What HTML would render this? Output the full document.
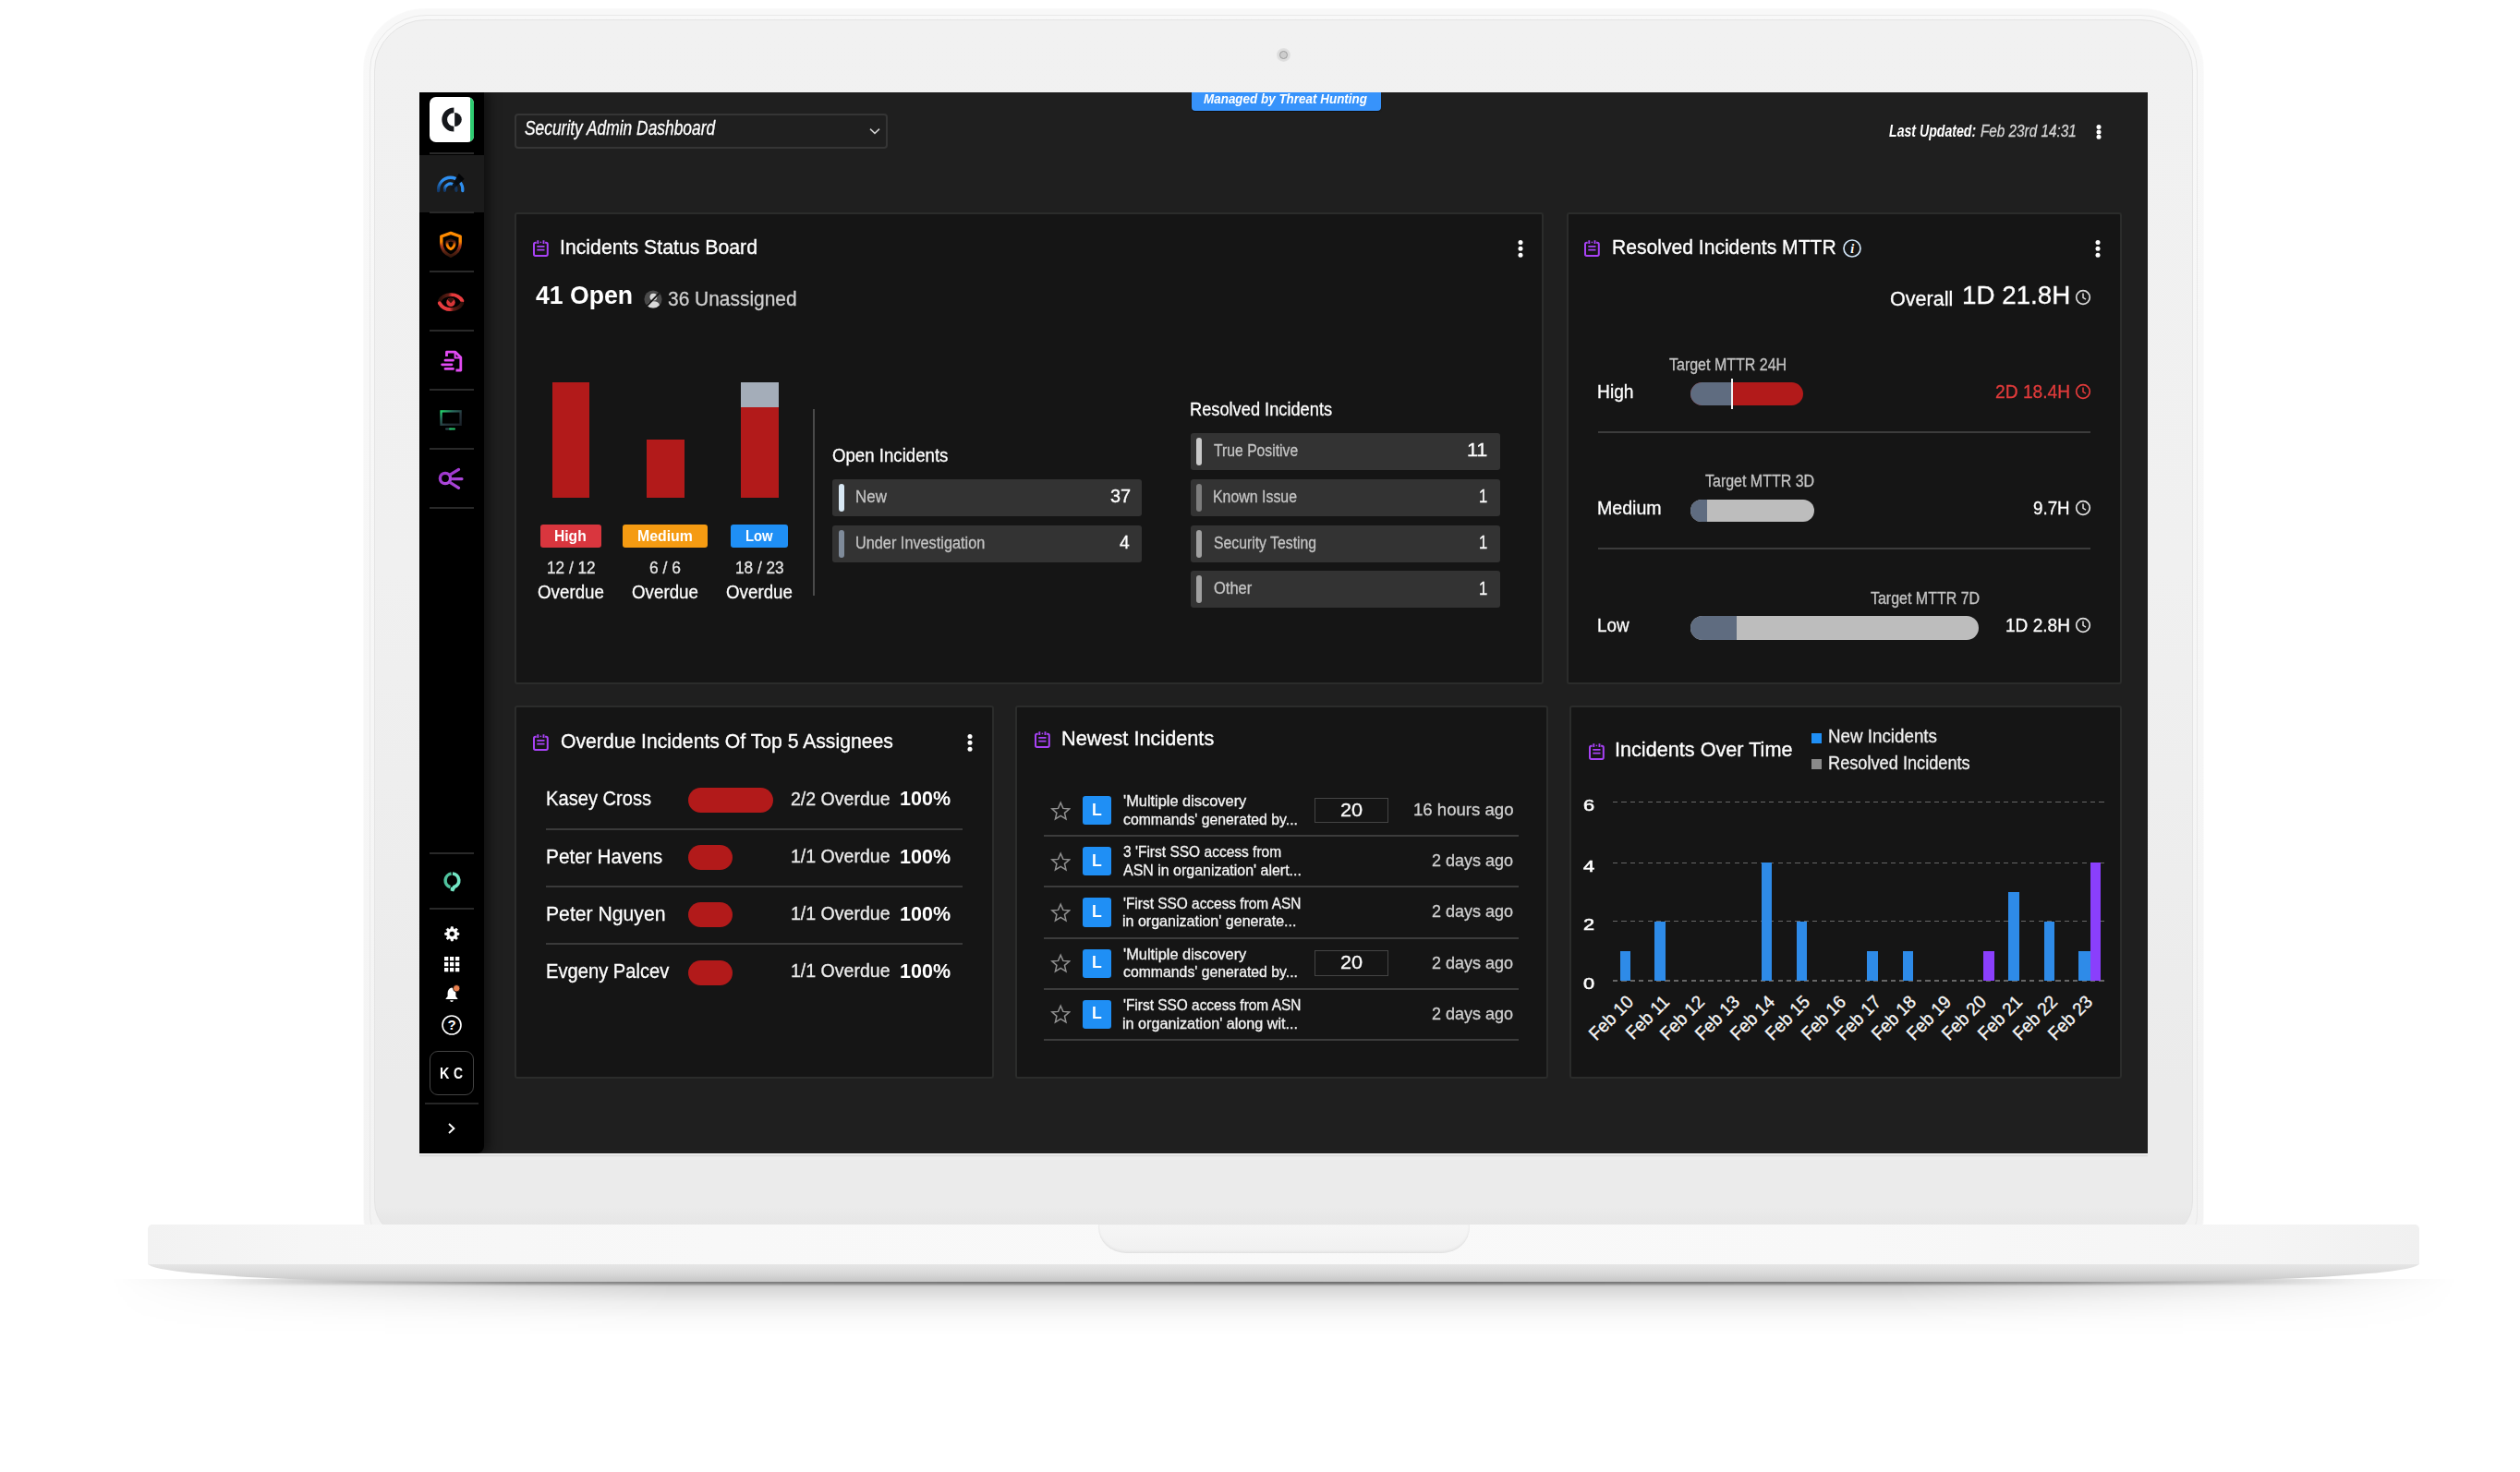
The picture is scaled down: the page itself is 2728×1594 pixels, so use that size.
<!DOCTYPE html>
<html lang="en"><head><meta charset="utf-8">
<title>Security Admin Dashboard</title>
<style>
html,body{margin:0;padding:0}
body{width:2728px;height:1594px;background:#fff;position:relative;overflow:hidden;
 font-family:"Liberation Sans",sans-serif;}
div,svg.a,span.t{position:absolute;box-sizing:border-box}
span.t{white-space:nowrap;line-height:1;transform-origin:0 50%;display:block}
.panel{background:#151515;border:2px solid #2b2c2b;border-radius:3px}
.row{background:#333;border-radius:3px}
</style></head><body>
<div id="laptop" style="left:0;top:0;width:2728px;height:1594px"><div style="left:120.0px;top:1385.0px;width:2540.0px;height:70.0px;background:linear-gradient(rgba(0,0,0,.30),rgba(0,0,0,.16) 14%,rgba(0,0,0,.07) 36%,rgba(0,0,0,.02) 62%,rgba(0,0,0,0) 88%);-webkit-mask-image:linear-gradient(90deg,transparent,rgba(0,0,0,.35) 8%,#000 24%,#000 76%,rgba(0,0,0,.35) 92%,transparent);mask-image:linear-gradient(90deg,transparent,rgba(0,0,0,.35) 8%,#000 24%,#000 76%,rgba(0,0,0,.35) 92%,transparent)"></div><div style="left:230.0px;top:1385.0px;width:2320.0px;height:6.0px;background:linear-gradient(90deg,rgba(0,0,0,0),rgba(0,0,0,.30) 14%,rgba(0,0,0,.42) 50%,rgba(0,0,0,.30) 86%,rgba(0,0,0,0));filter:blur(1.3px)"></div><div style="left:394.3px;top:10.0px;width:1990.4px;height:1330.0px;background:linear-gradient(#f8f8f8,#f6f6f6 60%,#f3f3f3);border-radius:66px 66px 20px 20px;box-shadow:0 0 1.5px rgba(0,0,0,.10)"></div><div style="left:400.0px;top:15.7px;width:1979.0px;height:1330.0px;border:1.2px solid #e9e9e9;border-radius:61px 61px 30px 30px"></div><div style="left:405.0px;top:20.7px;width:1969.0px;height:1320.0px;background:linear-gradient(#f1f1f1,#f0f0f0 45%,#ebebeb 88%,#ebebeb 97.5%,#e6e6e6 98.9%);border:1.6px solid #e4e4e4;border-radius:56px 56px 40px 40px"></div><div style="left:1382.2px;top:52.0px;width:14.6px;height:14.6px;border-radius:50%;background:radial-gradient(circle,#dcdcdc 55%,#e6e6e6 75%,rgba(236,236,236,0) 100%)"></div><div style="left:1384.9px;top:54.7px;width:9.2px;height:9.2px;border-radius:50%;background:#cdcdcd;border:1.4px solid #9c9c9c"></div><div style="left:160.0px;top:1368.0px;width:2459.0px;height:20.0px;background:linear-gradient(#e8e8e8,#d9d9d9 55%,#c6c6c6);border-radius:0 0 330px 330px/0 0 20px 20px"></div><div style="left:160.0px;top:1326.0px;width:2459.0px;height:43.4px;background:linear-gradient(90deg,#f2f2f2,#f6f6f6 7%,#f8f8f8 25%,#f9f9f9 50%,#f8f8f8 75%,#f5f5f5 93%,#f0f0f0);border-radius:5px 5px 1px 1px"></div><div style="left:1189.0px;top:1326.0px;width:402.0px;height:31.0px;background:linear-gradient(#f6f6f6,#f0f0f0);border-radius:0 0 30px 30px/0 0 28px 28px;box-shadow:inset 0 -2px 3px rgba(0,0,0,.05),inset 0 0 2px rgba(0,0,0,.05)"></div></div>
<div id="screen" style="left:454px;top:100px;width:1871px;height:1149px;background:#1f1f1f;overflow:hidden;box-shadow:0 1.2px 0 #fdfdfd,0 3.4px 0 #dbdbdb"><div id="sidebar" style="left:0;top:0;width:70px;height:1149px;background:#000;border-radius:0 0 8px 0;box-shadow:3px 0 14px 1px rgba(0,0,0,.6)"><div style="left:10.5px;top:5.0px;width:48.5px;height:49.0px;background:#fff;border-radius:7px;overflow:hidden"><div style="right:0;top:0;width:4.5px;height:49px;background:#2ecc71"></div><svg class="a" style="left:0;top:0" width="49" height="49" viewBox="0 0 49 49"><path d="M26.4 11.4A13.1 13.1 0 0 0 26.4 37.6V31.8A7.3 7.3 0 0 1 26.4 17.2z" fill="#16181c"/><path d="M27.2 16.9A7.6 7.6 0 0 1 27.2 32.1z" fill="#16181c"/></svg></div><div style="left:0.0px;top:67.5px;width:70.0px;height:62.2px;background:#1b1b1b"></div><div style="left:11.0px;top:65.0px;width:48.0px;height:2.0px;background:#292929"></div><div style="left:11.0px;top:129.0px;width:48.0px;height:2.0px;background:#292929"></div><div style="left:11.0px;top:193.0px;width:48.0px;height:2.0px;background:#292929"></div><div style="left:11.0px;top:257.0px;width:48.0px;height:2.0px;background:#292929"></div><div style="left:11.0px;top:321.0px;width:48.0px;height:2.0px;background:#292929"></div><div style="left:11.0px;top:385.0px;width:48.0px;height:2.0px;background:#292929"></div><div style="left:11.0px;top:449.0px;width:48.0px;height:2.0px;background:#292929"></div><div style="left:11.0px;top:823.0px;width:48.0px;height:2.0px;background:#292929"></div><div style="left:11.0px;top:883.0px;width:48.0px;height:2.0px;background:#292929"></div><div style="left:5.6px;top:1094.0px;width:58.6px;height:2.2px;background:#262626"></div><svg class="a" style="left:15.5px;top:84.0px" width="36" height="28" viewBox="0 0 36 28"><defs><linearGradient id="gB" x1="1" y1="0" x2="0" y2="1"><stop offset="0" stop-color="#3194f6"/><stop offset=".55" stop-color="#2d8cec"/><stop offset="1" stop-color="#123a6c"/></linearGradient><linearGradient id="gN" x1="0" y1="1" x2="1" y2="0"><stop offset="0" stop-color="#101820" stop-opacity=".5"/><stop offset=".45" stop-color="#060a10" stop-opacity=".95"/><stop offset="1" stop-color="#000"/></linearGradient></defs><path d="M4.65 22.5A13.1 13.1 0 1 1 30.75 22.5" fill="none" stroke="url(#gB)" stroke-width="3.3" stroke-linecap="round"/><path d="M11.46 22.3A6.3 6.3 0 0 1 21.3 16.2" fill="none" stroke="url(#gB)" stroke-width="3.2" stroke-linecap="round"/><path d="M21.3 16.2A6.3 6.3 0 0 1 23.94 22.3" fill="none" stroke="#14365f" stroke-width="3.2" stroke-linecap="round"/><path d="M16.6 21.6L26.8 3.8L32.7 9.7L19 22.6z" fill="url(#gN)"/></svg><svg class="a" style="left:18.8px;top:148.5px" width="30" height="32" viewBox="0 0 30 32"><defs><linearGradient id="gO" x1="0" y1="0" x2="0" y2="1"><stop offset="0" stop-color="#ff8c00"/><stop offset=".38" stop-color="#fb8500"/><stop offset=".58" stop-color="#a8351c"/><stop offset=".8" stop-color="#5e2413"/><stop offset="1" stop-color="#3a180c"/></linearGradient><linearGradient id="gO2" x1="0" y1="1" x2="0" y2="0"><stop offset="0" stop-color="#ff8c00"/><stop offset=".45" stop-color="#f57c00"/><stop offset=".75" stop-color="#7a2c14"/><stop offset="1" stop-color="#2e1208"/></linearGradient></defs><path d="M15 3.4L25.2 7V14.4C25.2 21.2 20.4 25.9 15 28.2C9.6 25.9 4.8 21.2 4.8 14.4V7z" fill="none" stroke="url(#gO)" stroke-width="3.4" stroke-linejoin="round"/><path d="M15 10.9L19 12.5V15C19 17.9 17.2 19.7 15 20.8C12.8 19.7 11 17.9 11 15V12.5z" fill="none" stroke="url(#gO2)" stroke-width="2.9" stroke-linejoin="round"/></svg><svg class="a" style="left:16.6px;top:214.0px" width="34" height="26" viewBox="0 0 34 26"><defs><linearGradient id="gR1" x1="0" y1="0" x2="1" y2="0"><stop offset="0" stop-color="#2e100a"/><stop offset=".38" stop-color="#5e1c14"/><stop offset=".55" stop-color="#e5393b"/><stop offset="1" stop-color="#ea3d40"/></linearGradient><linearGradient id="gR2" x1="0" y1="0" x2="1" y2="0"><stop offset="0" stop-color="#ea3d40"/><stop offset=".45" stop-color="#e5393b"/><stop offset=".62" stop-color="#5e1c14"/><stop offset="1" stop-color="#2e100a"/></linearGradient></defs><path d="M5 11.6C9.4 3.6 24 2.4 29.4 11.8" fill="none" stroke="url(#gR1)" stroke-width="3.9" stroke-linecap="round"/><path d="M4.8 14.2C10.2 23.8 24.8 22.8 29.2 14.6" fill="none" stroke="url(#gR2)" stroke-width="3.9" stroke-linecap="round"/><circle cx="17" cy="13.4" r="4.7" fill="#d93638"/><path d="M13.4 10.4L17 14.2L20.6 10.4A4.7 4.7 0 0 0 13.4 10.4z" fill="#3a120c"/></svg><svg class="a" style="left:22.0px;top:276.6px" width="28" height="28" viewBox="0 0 28 28"><path d="M7.5 9V4.2H17L22.8 10V24H17.5" fill="none" stroke="#e24bf3" stroke-width="2.8" stroke-linejoin="round"/><path d="M16.6 4.2V10.4H22.8" fill="none" stroke="#e24bf3" stroke-width="2"/><path d="M6 13.2H14.5M2.6 17.8H13M6 22.4H14.5" stroke="#e24bf3" stroke-width="2.8" stroke-linecap="round"/></svg><svg class="a" style="left:20.6px;top:342.0px" width="28" height="26" viewBox="0 0 28 26"><defs><linearGradient id="gG" x1="0" y1="0" x2="1" y2="1"><stop offset="0" stop-color="#22d36b"/><stop offset=".3" stop-color="#2a6a5e"/><stop offset=".6" stop-color="#26343c"/><stop offset="1" stop-color="#1a2229"/></linearGradient></defs><rect x="2.6" y="3.4" width="21" height="14.4" fill="none" stroke="url(#gG)" stroke-width="2.4"/><path d="M8 22.4H13" stroke="#2b4a52" stroke-width="2" stroke-linecap="round"/><path d="M12 22.4H17" stroke="#27c46b" stroke-width="2" stroke-linecap="round"/></svg><svg class="a" style="left:18.4px;top:403.0px" width="32" height="30" viewBox="0 0 32 30"><defs><linearGradient id="gP" x1="0" y1="0" x2="1" y2="1"><stop offset="0" stop-color="#9a32c8"/><stop offset="1" stop-color="#b24fe0"/></linearGradient></defs><circle cx="10" cy="15" r="5.6" fill="none" stroke="url(#gP)" stroke-width="3.4"/><path d="M15.5 10.8L24.5 5.4M17.8 15.6H28M15.5 19.6L24.5 25.4" stroke="url(#gP)" stroke-width="3.2" stroke-linecap="round"/></svg><svg class="a" style="left:22.0px;top:840.6px" width="26" height="28" viewBox="0 0 26 28"><path d="M13.9 5A7.5 7.5 0 0 1 15.6 19.6L13.5 23.6L13.6 19.9" fill="#72e5c4" fill-opacity="0" stroke="#72e5c4" stroke-width="3.7" stroke-linejoin="miter"/><path d="M12.6 5.1A7.5 7.5 0 0 0 11.4 19.7" fill="none" stroke="#58d7ae" stroke-width="3.5" stroke-opacity=".9"/></svg><svg class="a" style="left:25.8px;top:902.2px" width="18.6" height="18.6" viewBox="0 0 20 20"><path fill="#fff" fill-rule="evenodd" stroke="#fff" stroke-width="0.8" stroke-linejoin="round" d="M8.58 4.07L8.90 1.77L11.10 1.77L11.42 4.07L13.19 4.80L15.04 3.40L16.60 4.96L15.20 6.81L15.93 8.58L18.23 8.90L18.23 11.10L15.93 11.42L15.20 13.19L16.60 15.04L15.04 16.60L13.19 15.20L11.42 15.93L11.10 18.23L8.90 18.23L8.58 15.93L6.81 15.20L4.96 16.60L3.40 15.04L4.80 13.19L4.07 11.42L1.77 11.10L1.77 8.90L4.07 8.58L4.80 6.81L3.40 4.96L4.96 3.40L6.81 4.80zM6.70 10.00a3.30 3.30 0 1 0 6.60 0a3.30 3.30 0 1 0 -6.60 0z"/></svg><svg class="a" style="left:26.8px;top:935.8px" width="17" height="17" viewBox="0 0 17 17"><rect x="0.0" y="0.0" width="4.3" height="4.3" fill="#fff"/><rect x="6.0" y="0.0" width="4.3" height="4.3" fill="#fff"/><rect x="12.0" y="0.0" width="4.3" height="4.3" fill="#fff"/><rect x="0.0" y="6.0" width="4.3" height="4.3" fill="#fff"/><rect x="6.0" y="6.0" width="4.3" height="4.3" fill="#fff"/><rect x="12.0" y="6.0" width="4.3" height="4.3" fill="#fff"/><rect x="0.0" y="12.0" width="4.3" height="4.3" fill="#fff"/><rect x="6.0" y="12.0" width="4.3" height="4.3" fill="#fff"/><rect x="12.0" y="12.0" width="4.3" height="4.3" fill="#fff"/></svg><svg class="a" style="left:26.0px;top:964.6px" width="22" height="22" viewBox="0 0 22 22"><path d="M9 4.4C5.9 5 4.6 7.6 4.6 10.4V14L2.6 16.2V17H15.4V16.2L13.4 14V10.4C13.4 7.6 12.1 5 9 4.4z" fill="#fff"/><path d="M7.2 18.2A1.8 1.8 0 0 0 10.8 18.2z" fill="#fff"/><circle cx="14.2" cy="5.2" r="3.7" fill="#e9804f" stroke="#000" stroke-width=".8"/></svg><svg class="a" style="left:23.0px;top:998.0px" width="24" height="24" viewBox="0 0 24 24"><circle cx="12" cy="12" r="10" fill="none" stroke="#fff" stroke-width="1.6"/><text x="12" y="17.4" text-anchor="middle" font-family="Liberation Sans,sans-serif" font-weight="700" font-size="15" fill="#fff">?</text></svg><div style="left:11.0px;top:1038.0px;width:48.0px;height:48.0px;border:1.6px solid #444;border-radius:9px;background:#000"></div><span class="t" id="t1" style="left:21.9px;top:1055.0px;font-size:16.0px;color:#fff;font-weight:700;transform:scaleX(0.9000);">K</span><span class="t" id="t2" style="left:37.4px;top:1055.0px;font-size:16.0px;color:#fff;font-weight:700;transform:scaleX(0.8667);">C</span><svg class="a" style="left:28.8px;top:1115.0px" width="12" height="14" viewBox="0 0 12 14"><path d="M3 2L8.4 7L3 12" fill="none" stroke="#fff" stroke-width="1.9"/></svg></div>
<div id="header" style="left:70px;top:0;width:1801px;height:120px"><div style="left:33.0px;top:23.0px;width:404.0px;height:38.0px;border:2px solid #353535;border-radius:4px;background:#1f1f1f"></div><span class="t" id="t3" style="left:44.4px;top:29.0px;font-size:21.3px;color:#fff;font-style:italic;-webkit-text-stroke:0.30px #fff;transform:scaleX(0.8162);">Security Admin Dashboard</span><svg class="a" style="left:415.8px;top:37.0px" width="14" height="10" viewBox="0 0 14 10"><path d="M2 2.6L7 7.4L12 2.6" fill="none" stroke="#cfcfcf" stroke-width="1.5"/></svg><div style="left:765.8px;top:0.0px;width:204.8px;height:20.4px;background:#3793fb;border-radius:0 0 4px 4px;box-shadow:0 1px 1px rgba(0,0,0,.5)"></div><span class="t" id="t4" style="left:779.2px;top:0.0px;font-size:14.7px;color:#fff;font-weight:700;font-style:italic;transform:scaleX(0.9151);">Managed by Threat Hunting</span><span class="t" id="t5" style="left:1521.0px;top:33.0px;font-size:18.0px;color:#fff;font-weight:700;font-style:italic;transform:scaleX(0.7849);">Last Updated:</span><span class="t" id="t6" style="left:1619.6px;top:33.0px;font-size:18.0px;color:#d6d6d6;font-style:italic;-webkit-text-stroke:0.30px #d6d6d6;transform:scaleX(0.8490);">Feb 23rd 14:31</span><svg class="a" style="left:1744.1px;top:35.3px" width="8" height="22" viewBox="0 0 8 22"><circle cx="4" cy="2.50" r="2.50" fill="#fff"/><circle cx="4" cy="7.90" r="2.50" fill="#fff"/><circle cx="4" cy="13.30" r="2.50" fill="#fff"/></svg></div>
<div class="panel" id="status" style="left:103.0px;top:130.0px;width:1114.0px;height:511.0px"><svg class="a" style="left:18.0px;top:28.3px" width="17" height="18.4" viewBox="0 0 17 18.4"><path d="M3.7 2.7H2.7Q1 2.7 1 4.4V15.3Q1 17 2.7 17H14.1Q15.8 17 15.8 15.3V4.4Q15.8 2.7 14.1 2.7H13.1" fill="none" stroke="#a842f6" stroke-width="2"/><path d="M5.3 0.3V4.1M11.5 0.3V4.1" stroke="#a842f6" stroke-width="1.9"/><circle cx="8.4" cy="2.3" r=".85" fill="#a842f6"/><path d="M4.3 6.9H12.5M4.3 10.6H12.5" stroke="#a842f6" stroke-width="1.7"/></svg><span class="t" id="t7" style="left:46.7px;top:25.0px;font-size:22.6px;color:#fff;-webkit-text-stroke:0.35px #fff;transform:scaleX(0.9414);">Incidents Status Board</span><svg class="a" style="left:1083.0px;top:27.5px" width="8" height="22" viewBox="0 0 8 22"><circle cx="4" cy="2.50" r="2.50" fill="#fff"/><circle cx="4" cy="9.35" r="2.50" fill="#fff"/><circle cx="4" cy="16.20" r="2.50" fill="#fff"/></svg><span class="t" id="t8" style="left:20.8px;top:74.0px;font-size:28.0px;color:#fff;font-weight:700;transform:scaleX(0.9508);">41 Open</span><svg class="a" style="left:138.2px;top:82.0px" width="20" height="20" viewBox="0 0 20 20"><circle cx="10" cy="10" r="9.6" fill="#4a4a4a"/><circle cx="10.4" cy="7.6" r="3.9" fill="#d9d9d9"/><path d="M3.4 17C4.4 13.4 7 12.2 10.4 12.2S16.4 13.4 17 16.4A9.6 9.6 0 0 1 3.4 17z" fill="#d9d9d9"/><path d="M3.2 17.4L16.8 3.4" stroke="#151515" stroke-width="1.9"/></svg><span class="t" id="t9" style="left:164.2px;top:81.0px;font-size:22.2px;color:#cfcfcf;-webkit-text-stroke:0.30px #cfcfcf;transform:scaleX(0.9435);">36 Unassigned</span><div style="left:38.6px;top:181.6px;width:40.8px;height:125.2px;background:#b21a1a"></div><div style="left:140.6px;top:243.6px;width:41.0px;height:63.2px;background:#b21a1a"></div><div style="left:242.6px;top:181.6px;width:41.0px;height:125.2px;background:#b21a1a"></div><div style="left:242.6px;top:181.6px;width:41.0px;height:27.6px;background:#a4adb9"></div><div style="left:25.7px;top:336.4px;width:66.0px;height:24.3px;background:#d9363e;border-radius:3px"></div><div style="left:115.2px;top:336.4px;width:91.7px;height:24.3px;background:#f59b12;border-radius:3px"></div><div style="left:231.8px;top:336.4px;width:62.4px;height:24.3px;background:#1f8ff5;border-radius:3px"></div><span class="t" id="t10" style="left:41.1px;top:341.0px;font-size:16.6px;color:#fff;font-weight:700;transform:scaleX(0.9404);">High</span><span class="t" id="t11" style="left:130.8px;top:341.0px;font-size:16.6px;color:#fff;font-weight:700;transform:scaleX(0.9551);">Medium</span><span class="t" id="t12" style="left:247.7px;top:341.0px;font-size:16.6px;color:#fff;font-weight:700;transform:scaleX(0.8924);">Low</span><span class="t" id="t13" style="left:32.7px;top:374.0px;font-size:18.6px;color:#e6e6e6;-webkit-text-stroke:0.30px #e6e6e6;transform:scaleX(0.9258);">12 / 12</span><span class="t" id="t14" style="left:144.4px;top:374.0px;font-size:18.6px;color:#e6e6e6;-webkit-text-stroke:0.30px #e6e6e6;transform:scaleX(0.9375);">6 / 6</span><span class="t" id="t15" style="left:236.7px;top:374.0px;font-size:18.6px;color:#e6e6e6;-webkit-text-stroke:0.30px #e6e6e6;transform:scaleX(0.9258);">18 / 23</span><span class="t" id="t16" style="left:23.2px;top:399.0px;font-size:20.6px;color:#fff;-webkit-text-stroke:0.30px #fff;transform:scaleX(0.9104);">Overdue</span><span class="t" id="t17" style="left:125.0px;top:399.0px;font-size:20.6px;color:#fff;-webkit-text-stroke:0.30px #fff;transform:scaleX(0.9104);">Overdue</span><span class="t" id="t18" style="left:227.4px;top:399.0px;font-size:20.6px;color:#fff;-webkit-text-stroke:0.30px #fff;transform:scaleX(0.9104);">Overdue</span><div style="left:321.4px;top:211.0px;width:1.6px;height:201.6px;background:#4a4a4a"></div><span class="t" id="t19" style="left:342.4px;top:251.0px;font-size:20.4px;color:#fff;-webkit-text-stroke:0.30px #fff;transform:scaleX(0.9141);">Open Incidents</span><div class="row" style="left:342.2px;top:287.0px;width:335.0px;height:40.0px;"></div><div style="left:348.8px;top:291.8px;width:5.8px;height:30.0px;background:#d8e8f4;border-radius:3px"></div><span class="t" id="t20" style="left:367.0px;top:298.0px;font-size:17.6px;color:#c4c4c4;-webkit-text-stroke:0.30px #c4c4c4;transform:scaleX(0.9626);">New</span><span class="t" id="t21" style="left:642.6px;top:296.0px;font-size:19.6px;color:#fff;-webkit-text-stroke:0.30px #fff;transform:scaleX(1.0145);">37</span><div class="row" style="left:342.2px;top:337.0px;width:335.0px;height:40.0px;"></div><div style="left:348.8px;top:341.8px;width:5.8px;height:30.0px;background:#7f8b9a;border-radius:3px"></div><span class="t" id="t22" style="left:367.1px;top:348.0px;font-size:17.6px;color:#c4c4c4;-webkit-text-stroke:0.30px #c4c4c4;transform:scaleX(0.9252);">Under Investigation</span><span class="t" id="t23" style="left:653.0px;top:346.0px;font-size:19.6px;color:#fff;-webkit-text-stroke:0.30px #fff;transform:scaleX(0.9818);">4</span><span class="t" id="t24" style="left:729.1px;top:201.0px;font-size:20.4px;color:#fff;-webkit-text-stroke:0.30px #fff;transform:scaleX(0.8943);">Resolved Incidents</span><div class="row" style="left:729.5px;top:237.0px;width:335.0px;height:40.0px;"></div><div style="left:736.0px;top:241.8px;width:5.8px;height:30.0px;background:#c9c9c9;border-radius:3px"></div><span class="t" id="t25" style="left:755.2px;top:248.0px;font-size:17.6px;color:#c4c4c4;-webkit-text-stroke:0.30px #c4c4c4;transform:scaleX(0.8940);">True Positive</span><span class="t" id="t26" style="left:1028.9px;top:246.0px;font-size:19.6px;color:#fff;-webkit-text-stroke:0.30px #fff;transform:scaleX(1.0953);">11</span><div class="row" style="left:729.5px;top:287.0px;width:335.0px;height:40.0px;"></div><div style="left:736.0px;top:291.8px;width:5.8px;height:30.0px;background:#7d7d7d;border-radius:3px"></div><span class="t" id="t27" style="left:754.3px;top:298.0px;font-size:17.6px;color:#c4c4c4;-webkit-text-stroke:0.30px #c4c4c4;transform:scaleX(0.9035);">Known Issue</span><span class="t" id="t28" style="left:1041.8px;top:296.0px;font-size:19.6px;color:#fff;-webkit-text-stroke:0.30px #fff;transform:scaleX(0.8444);">1</span><div class="row" style="left:729.5px;top:337.0px;width:335.0px;height:40.0px;"></div><div style="left:736.0px;top:341.8px;width:5.8px;height:30.0px;background:#a0a0a0;border-radius:3px"></div><span class="t" id="t29" style="left:755.2px;top:348.0px;font-size:17.6px;color:#c4c4c4;-webkit-text-stroke:0.30px #c4c4c4;transform:scaleX(0.8971);">Security Testing</span><span class="t" id="t30" style="left:1041.8px;top:346.0px;font-size:19.6px;color:#fff;-webkit-text-stroke:0.30px #fff;transform:scaleX(0.8444);">1</span><div class="row" style="left:729.5px;top:386.2px;width:335.0px;height:40.0px;"></div><div style="left:736.0px;top:391.0px;width:5.8px;height:30.0px;background:#a0a0a0;border-radius:3px"></div><span class="t" id="t31" style="left:755.2px;top:397.0px;font-size:17.6px;color:#c4c4c4;-webkit-text-stroke:0.30px #c4c4c4;transform:scaleX(0.9379);">Other</span><span class="t" id="t32" style="left:1041.8px;top:396.0px;font-size:19.6px;color:#fff;-webkit-text-stroke:0.30px #fff;transform:scaleX(0.8444);">1</span></div>
<div class="panel" id="mttr" style="left:1242.0px;top:130.0px;width:601.0px;height:511.0px"><svg class="a" style="left:17.2px;top:28.3px" width="17" height="18.4" viewBox="0 0 17 18.4"><path d="M3.7 2.7H2.7Q1 2.7 1 4.4V15.3Q1 17 2.7 17H14.1Q15.8 17 15.8 15.3V4.4Q15.8 2.7 14.1 2.7H13.1" fill="none" stroke="#a842f6" stroke-width="2"/><path d="M5.3 0.3V4.1M11.5 0.3V4.1" stroke="#a842f6" stroke-width="1.9"/><circle cx="8.4" cy="2.3" r=".85" fill="#a842f6"/><path d="M4.3 6.9H12.5M4.3 10.6H12.5" stroke="#a842f6" stroke-width="1.7"/></svg><span class="t" id="t33" style="left:46.9px;top:25.0px;font-size:22.6px;color:#fff;-webkit-text-stroke:0.35px #fff;transform:scaleX(0.9335);">Resolved Incidents MTTR</span><svg class="a" style="left:295.6px;top:26.2px" width="22" height="22" viewBox="0 0 22 22"><circle cx="11" cy="11" r="9" fill="none" stroke="#cfe3f5" stroke-width="1.7"/><text x="11.2" y="16" text-anchor="middle" font-family="Liberation Serif,serif" font-style="italic" font-weight="700" font-size="14" fill="#fff">i</text></svg><svg class="a" style="left:568.8px;top:27.5px" width="8" height="22" viewBox="0 0 8 22"><circle cx="4" cy="2.50" r="2.50" fill="#fff"/><circle cx="4" cy="9.35" r="2.50" fill="#fff"/><circle cx="4" cy="16.20" r="2.50" fill="#fff"/></svg><span class="t" id="t34" style="left:347.6px;top:82.0px;font-size:21.4px;color:#fff;-webkit-text-stroke:0.30px #fff;transform:scaleX(1.0091);">Overall</span><span class="t" id="t35" style="left:426.4px;top:74.0px;font-size:27.2px;color:#fff;-webkit-text-stroke:0.30px #fff;transform:scaleX(1.0214);">1D 21.8H</span><svg class="a" style="left:547.0px;top:79.8px" width="20" height="20" viewBox="0 0 20 20"><circle cx="10" cy="10" r="7.3" fill="none" stroke="#d8d8d8" stroke-width="1.7"/><path d="M10 5.6v4.8l3 1.8" fill="none" stroke="#d8d8d8" stroke-width="1.5"/></svg><span class="t" id="t36" style="left:109.3px;top:155.0px;font-size:17.6px;color:#c4c4c4;-webkit-text-stroke:0.30px #c4c4c4;transform:scaleX(0.9094);">Target MTTR 24H</span><span class="t" id="t37" style="left:30.9px;top:182.0px;font-size:20.6px;color:#fff;-webkit-text-stroke:0.30px #fff;transform:scaleX(0.9340);">High</span><div style="left:132.0px;top:181.7px;width:122.2px;height:25.4px;border-radius:13px;overflow:hidden;background:#b21a1a"><div style="left:0;top:0;width:44.6px;height:26px;background:#5f6c80"></div></div><div style="left:176.0px;top:177.6px;width:1.7px;height:33.6px;background:#f2f2f2"></div><span class="t" id="t38" style="left:461.7px;top:182.0px;font-size:20.6px;color:#e23b3b;-webkit-text-stroke:0.30px #e23b3b;transform:scaleX(0.9327);">2D 18.4H</span><svg class="a" style="left:546.8px;top:181.6px" width="20" height="20" viewBox="0 0 20 20"><circle cx="10" cy="10" r="7.3" fill="none" stroke="#e23b3b" stroke-width="1.7"/><path d="M10 5.6v4.8l3 1.8" fill="none" stroke="#e23b3b" stroke-width="1.5"/></svg><div style="left:31.5px;top:234.6px;width:533.5px;height:2.0px;background:#3c3c3c"></div><span class="t" id="t39" style="left:148.0px;top:281.0px;font-size:17.6px;color:#c4c4c4;-webkit-text-stroke:0.30px #c4c4c4;transform:scaleX(0.9086);">Target MTTR 3D</span><span class="t" id="t40" style="left:30.8px;top:308.0px;font-size:20.6px;color:#fff;-webkit-text-stroke:0.30px #fff;transform:scaleX(0.9509);">Medium</span><div style="left:132.0px;top:308.6px;width:133.5px;height:24.8px;border-radius:13px;overflow:hidden;background:#bdbdbd"><div style="left:0;top:0;width:18.4px;height:26px;background:#5f6c80"></div></div><span class="t" id="t41" style="left:503.2px;top:308.0px;font-size:20.6px;color:#fff;-webkit-text-stroke:0.30px #fff;transform:scaleX(0.9102);">9.7H</span><svg class="a" style="left:546.8px;top:308.2px" width="20" height="20" viewBox="0 0 20 20"><circle cx="10" cy="10" r="7.3" fill="none" stroke="#e0e0e0" stroke-width="1.7"/><path d="M10 5.6v4.8l3 1.8" fill="none" stroke="#e0e0e0" stroke-width="1.5"/></svg><div style="left:31.5px;top:361.2px;width:533.5px;height:2.0px;background:#3c3c3c"></div><span class="t" id="t42" style="left:326.8px;top:408.0px;font-size:17.6px;color:#c4c4c4;-webkit-text-stroke:0.30px #c4c4c4;transform:scaleX(0.9079);">Target MTTR 7D</span><span class="t" id="t43" style="left:30.9px;top:435.0px;font-size:20.6px;color:#fff;-webkit-text-stroke:0.30px #fff;transform:scaleX(0.9158);">Low</span><div style="left:132.0px;top:435.2px;width:312.2px;height:25.4px;border-radius:13px;overflow:hidden;background:#bdbdbd"><div style="left:0;top:0;width:49.6px;height:26px;background:#5f6c80"></div></div><span class="t" id="t44" style="left:472.9px;top:435.0px;font-size:20.6px;color:#fff;-webkit-text-stroke:0.30px #fff;transform:scaleX(0.9257);">1D 2.8H</span><svg class="a" style="left:546.8px;top:434.8px" width="20" height="20" viewBox="0 0 20 20"><circle cx="10" cy="10" r="7.3" fill="none" stroke="#e0e0e0" stroke-width="1.7"/><path d="M10 5.6v4.8l3 1.8" fill="none" stroke="#e0e0e0" stroke-width="1.5"/></svg></div>
<div class="panel" id="overdue" style="left:103.0px;top:664.0px;width:519.0px;height:404.0px"><svg class="a" style="left:18.0px;top:28.9px" width="17" height="18.4" viewBox="0 0 17 18.4"><path d="M3.7 2.7H2.7Q1 2.7 1 4.4V15.3Q1 17 2.7 17H14.1Q15.8 17 15.8 15.3V4.4Q15.8 2.7 14.1 2.7H13.1" fill="none" stroke="#a842f6" stroke-width="2"/><path d="M5.3 0.3V4.1M11.5 0.3V4.1" stroke="#a842f6" stroke-width="1.9"/><circle cx="8.4" cy="2.3" r=".85" fill="#a842f6"/><path d="M4.3 6.9H12.5M4.3 10.6H12.5" stroke="#a842f6" stroke-width="1.7"/></svg><span class="t" id="t45" style="left:48.1px;top:26.0px;font-size:22.6px;color:#fff;-webkit-text-stroke:0.35px #fff;transform:scaleX(0.9374);">Overdue Incidents Of Top 5 Assignees</span><svg class="a" style="left:486.7px;top:29.4px" width="8" height="22" viewBox="0 0 8 22"><circle cx="4" cy="2.50" r="2.50" fill="#fff"/><circle cx="4" cy="9.35" r="2.50" fill="#fff"/><circle cx="4" cy="16.20" r="2.50" fill="#fff"/></svg><span class="t" id="t46" style="left:31.7px;top:88.0px;font-size:22.6px;color:#fff;-webkit-text-stroke:0.30px #fff;transform:scaleX(0.8913);">Kasey Cross</span><div style="left:186.4px;top:87.0px;width:91.2px;height:27.0px;background:#b21a1a;border-radius:14px"></div><span class="t" id="t47" style="left:297.2px;top:89.0px;font-size:20.0px;color:#ececec;-webkit-text-stroke:0.30px #ececec;transform:scaleX(0.9766);">2/2 Overdue</span><span class="t" id="t48" style="left:415.2px;top:88.0px;font-size:21.6px;color:#fff;font-weight:700;transform:scaleX(0.9958);">100%</span><div style="left:32.4px;top:130.5px;width:450.2px;height:2.0px;background:#3a3a3a"></div><span class="t" id="t49" style="left:31.7px;top:151.0px;font-size:22.6px;color:#fff;-webkit-text-stroke:0.30px #fff;transform:scaleX(0.9219);">Peter Havens</span><div style="left:186.4px;top:149.2px;width:47.2px;height:27.0px;background:#b21a1a;border-radius:14px"></div><span class="t" id="t50" style="left:297.2px;top:151.0px;font-size:20.0px;color:#ececec;-webkit-text-stroke:0.30px #ececec;transform:scaleX(0.9766);">1/1 Overdue</span><span class="t" id="t51" style="left:415.2px;top:151.0px;font-size:21.6px;color:#fff;font-weight:700;transform:scaleX(0.9958);">100%</span><div style="left:32.4px;top:192.7px;width:450.2px;height:2.0px;background:#3a3a3a"></div><span class="t" id="t52" style="left:31.7px;top:213.0px;font-size:22.6px;color:#fff;-webkit-text-stroke:0.30px #fff;transform:scaleX(0.9371);">Peter Nguyen</span><div style="left:186.4px;top:211.4px;width:47.2px;height:27.0px;background:#b21a1a;border-radius:14px"></div><span class="t" id="t53" style="left:297.2px;top:213.0px;font-size:20.0px;color:#ececec;-webkit-text-stroke:0.30px #ececec;transform:scaleX(0.9766);">1/1 Overdue</span><span class="t" id="t54" style="left:415.2px;top:213.0px;font-size:21.6px;color:#fff;font-weight:700;transform:scaleX(0.9958);">100%</span><div style="left:32.4px;top:254.9px;width:450.2px;height:2.0px;background:#3a3a3a"></div><span class="t" id="t55" style="left:31.7px;top:275.0px;font-size:22.6px;color:#fff;-webkit-text-stroke:0.30px #fff;transform:scaleX(0.8917);">Evgeny Palcev</span><div style="left:186.4px;top:273.6px;width:47.2px;height:27.0px;background:#b21a1a;border-radius:14px"></div><span class="t" id="t56" style="left:297.2px;top:275.0px;font-size:20.0px;color:#ececec;-webkit-text-stroke:0.30px #ececec;transform:scaleX(0.9766);">1/1 Overdue</span><span class="t" id="t57" style="left:415.2px;top:275.0px;font-size:21.6px;color:#fff;font-weight:700;transform:scaleX(0.9958);">100%</span></div>
<div class="panel" id="newest" style="left:645.0px;top:664.0px;width:577.0px;height:404.0px"><svg class="a" style="left:18.7px;top:26.0px" width="17" height="18.4" viewBox="0 0 17 18.4"><path d="M3.7 2.7H2.7Q1 2.7 1 4.4V15.3Q1 17 2.7 17H14.1Q15.8 17 15.8 15.3V4.4Q15.8 2.7 14.1 2.7H13.1" fill="none" stroke="#a842f6" stroke-width="2"/><path d="M5.3 0.3V4.1M11.5 0.3V4.1" stroke="#a842f6" stroke-width="1.9"/><circle cx="8.4" cy="2.3" r=".85" fill="#a842f6"/><path d="M4.3 6.9H12.5M4.3 10.6H12.5" stroke="#a842f6" stroke-width="1.7"/></svg><span class="t" id="t58" style="left:47.8px;top:23.0px;font-size:22.6px;color:#fff;-webkit-text-stroke:0.35px #fff;transform:scaleX(0.9605);">Newest Incidents</span><svg class="a" style="left:35.6px;top:100.5px" width="22.4" height="22.4" viewBox="0 0 24 24"><path d="M12 2.4l2.85 6.6 7.15.6-5.45 4.7 1.65 7L12 17.6l-6.2 3.7 1.65-7L2 9.6l7.15-.6z" fill="none" stroke="#919191" stroke-width="1.6" stroke-linejoin="miter"/></svg><div style="left:70.8px;top:96.0px;width:31.2px;height:31.2px;background:#1f8ff5;border-radius:3px"></div><span class="t" id="t59" style="left:81.3px;top:102.0px;font-size:18.8px;color:#fff;font-weight:700;transform:scaleX(0.9400);">L</span><span class="t" id="t60" style="left:115.4px;top:94.0px;font-size:16.6px;color:#f6f6f6;-webkit-text-stroke:0.30px #f6f6f6;transform:scaleX(0.9871);">'Multiple discovery</span><span class="t" id="t61" style="left:115.4px;top:114.0px;font-size:16.6px;color:#f6f6f6;-webkit-text-stroke:0.30px #f6f6f6;transform:scaleX(0.9525);">commands' generated by...</span><div style="left:321.9px;top:97.6px;width:80.4px;height:27.6px;border:1.5px solid #444;background:#151515"></div><span class="t" id="t62" style="left:349.9px;top:102.0px;font-size:19.8px;color:#fff;-webkit-text-stroke:0.30px #fff;transform:scaleX(1.0952);">20</span><span class="t" id="t63" style="left:428.8px;top:101.0px;font-size:19.0px;color:#d0d0d0;-webkit-text-stroke:0.30px #d0d0d0;transform:scaleX(0.9785);">16 hours ago</span><div style="left:29.0px;top:138.2px;width:514.4px;height:2.0px;background:#3c3c3c"></div><svg class="a" style="left:35.6px;top:155.7px" width="22.4" height="22.4" viewBox="0 0 24 24"><path d="M12 2.4l2.85 6.6 7.15.6-5.45 4.7 1.65 7L12 17.6l-6.2 3.7 1.65-7L2 9.6l7.15-.6z" fill="none" stroke="#919191" stroke-width="1.6" stroke-linejoin="miter"/></svg><div style="left:70.8px;top:151.2px;width:31.2px;height:31.2px;background:#1f8ff5;border-radius:3px"></div><span class="t" id="t64" style="left:81.3px;top:157.0px;font-size:18.8px;color:#fff;font-weight:700;transform:scaleX(0.9400);">L</span><span class="t" id="t65" style="left:115.4px;top:149.0px;font-size:16.6px;color:#f6f6f6;-webkit-text-stroke:0.30px #f6f6f6;transform:scaleX(0.9355);">3 'First SSO access from</span><span class="t" id="t66" style="left:115.4px;top:169.0px;font-size:16.6px;color:#f6f6f6;-webkit-text-stroke:0.30px #f6f6f6;transform:scaleX(0.9618);">ASN in organization' alert...</span><span class="t" id="t67" style="left:449.3px;top:156.0px;font-size:19.0px;color:#d0d0d0;-webkit-text-stroke:0.30px #d0d0d0;transform:scaleX(0.9471);">2 days ago</span><div style="left:29.0px;top:193.4px;width:514.4px;height:2.0px;background:#3c3c3c"></div><svg class="a" style="left:35.6px;top:210.9px" width="22.4" height="22.4" viewBox="0 0 24 24"><path d="M12 2.4l2.85 6.6 7.15.6-5.45 4.7 1.65 7L12 17.6l-6.2 3.7 1.65-7L2 9.6l7.15-.6z" fill="none" stroke="#919191" stroke-width="1.6" stroke-linejoin="miter"/></svg><div style="left:70.8px;top:206.4px;width:31.2px;height:31.2px;background:#1f8ff5;border-radius:3px"></div><span class="t" id="t68" style="left:81.3px;top:212.0px;font-size:18.8px;color:#fff;font-weight:700;transform:scaleX(0.9400);">L</span><span class="t" id="t69" style="left:115.4px;top:205.0px;font-size:16.6px;color:#f6f6f6;-webkit-text-stroke:0.30px #f6f6f6;transform:scaleX(0.9295);">'First SSO access from ASN</span><span class="t" id="t70" style="left:114.4px;top:224.0px;font-size:16.6px;color:#f6f6f6;-webkit-text-stroke:0.30px #f6f6f6;transform:scaleX(0.9662);">in organization' generate...</span><span class="t" id="t71" style="left:449.3px;top:211.0px;font-size:19.0px;color:#d0d0d0;-webkit-text-stroke:0.30px #d0d0d0;transform:scaleX(0.9471);">2 days ago</span><div style="left:29.0px;top:248.6px;width:514.4px;height:2.0px;background:#3c3c3c"></div><svg class="a" style="left:35.6px;top:266.1px" width="22.4" height="22.4" viewBox="0 0 24 24"><path d="M12 2.4l2.85 6.6 7.15.6-5.45 4.7 1.65 7L12 17.6l-6.2 3.7 1.65-7L2 9.6l7.15-.6z" fill="none" stroke="#919191" stroke-width="1.6" stroke-linejoin="miter"/></svg><div style="left:70.8px;top:261.6px;width:31.2px;height:31.2px;background:#1f8ff5;border-radius:3px"></div><span class="t" id="t72" style="left:81.3px;top:267.0px;font-size:18.8px;color:#fff;font-weight:700;transform:scaleX(0.9400);">L</span><span class="t" id="t73" style="left:115.4px;top:260.0px;font-size:16.6px;color:#f6f6f6;-webkit-text-stroke:0.30px #f6f6f6;transform:scaleX(0.9871);">'Multiple discovery</span><span class="t" id="t74" style="left:115.4px;top:279.0px;font-size:16.6px;color:#f6f6f6;-webkit-text-stroke:0.30px #f6f6f6;transform:scaleX(0.9525);">commands' generated by...</span><div style="left:321.9px;top:263.2px;width:80.4px;height:27.6px;border:1.5px solid #444;background:#151515"></div><span class="t" id="t75" style="left:349.9px;top:267.0px;font-size:19.8px;color:#fff;-webkit-text-stroke:0.30px #fff;transform:scaleX(1.0952);">20</span><span class="t" id="t76" style="left:449.3px;top:267.0px;font-size:19.0px;color:#d0d0d0;-webkit-text-stroke:0.30px #d0d0d0;transform:scaleX(0.9471);">2 days ago</span><div style="left:29.0px;top:303.8px;width:514.4px;height:2.0px;background:#3c3c3c"></div><svg class="a" style="left:35.6px;top:321.3px" width="22.4" height="22.4" viewBox="0 0 24 24"><path d="M12 2.4l2.85 6.6 7.15.6-5.45 4.7 1.65 7L12 17.6l-6.2 3.7 1.65-7L2 9.6l7.15-.6z" fill="none" stroke="#919191" stroke-width="1.6" stroke-linejoin="miter"/></svg><div style="left:70.8px;top:316.8px;width:31.2px;height:31.2px;background:#1f8ff5;border-radius:3px"></div><span class="t" id="t77" style="left:81.3px;top:322.0px;font-size:18.8px;color:#fff;font-weight:700;transform:scaleX(0.9400);">L</span><span class="t" id="t78" style="left:115.4px;top:315.0px;font-size:16.6px;color:#f6f6f6;-webkit-text-stroke:0.30px #f6f6f6;transform:scaleX(0.9295);">'First SSO access from ASN</span><span class="t" id="t79" style="left:114.4px;top:335.0px;font-size:16.6px;color:#f6f6f6;-webkit-text-stroke:0.30px #f6f6f6;transform:scaleX(0.9740);">in organization' along wit...</span><span class="t" id="t80" style="left:449.3px;top:322.0px;font-size:19.0px;color:#d0d0d0;-webkit-text-stroke:0.30px #d0d0d0;transform:scaleX(0.9471);">2 days ago</span><div style="left:29.0px;top:359.0px;width:514.4px;height:2.0px;background:#3c3c3c"></div></div>
<div class="panel" id="chart" style="left:1245.0px;top:664.0px;width:598.0px;height:404.0px"><svg class="a" style="left:18.8px;top:38.7px" width="17" height="18.4" viewBox="0 0 17 18.4"><path d="M3.7 2.7H2.7Q1 2.7 1 4.4V15.3Q1 17 2.7 17H14.1Q15.8 17 15.8 15.3V4.4Q15.8 2.7 14.1 2.7H13.1" fill="none" stroke="#a842f6" stroke-width="2"/><path d="M5.3 0.3V4.1M11.5 0.3V4.1" stroke="#a842f6" stroke-width="1.9"/><circle cx="8.4" cy="2.3" r=".85" fill="#a842f6"/><path d="M4.3 6.9H12.5M4.3 10.6H12.5" stroke="#a842f6" stroke-width="1.7"/></svg><span class="t" id="t81" style="left:46.7px;top:35.0px;font-size:22.6px;color:#fff;-webkit-text-stroke:0.35px #fff;transform:scaleX(0.9580);">Incidents Over Time</span><div style="left:260.0px;top:27.6px;width:11.4px;height:11.4px;background:#1f8ff5"></div><span class="t" id="t82" style="left:278.1px;top:21.0px;font-size:20.0px;color:#f0f0f0;-webkit-text-stroke:0.30px #f0f0f0;transform:scaleX(0.9389);">New Incidents</span><div style="left:260.0px;top:56.0px;width:11.4px;height:11.4px;background:#8a8a8a"></div><span class="t" id="t83" style="left:278.1px;top:50.0px;font-size:20.0px;color:#f0f0f0;-webkit-text-stroke:0.30px #f0f0f0;transform:scaleX(0.9096);">Resolved Incidents</span><div style="left:44.7px;top:101.9px;width:532.0px;height:1.6px;background:repeating-linear-gradient(90deg,#666 0 5.2px,transparent 5.2px 9.4px)"></div><span class="t" id="t84" style="left:12.8px;top:99.0px;font-size:16.6px;color:#fff;-webkit-text-stroke:0.55px #fff;transform:scaleX(1.3111);">6</span><div style="left:44.7px;top:167.6px;width:532.0px;height:1.6px;background:repeating-linear-gradient(90deg,#666 0 5.2px,transparent 5.2px 9.4px)"></div><span class="t" id="t85" style="left:12.8px;top:165.0px;font-size:16.6px;color:#fff;-webkit-text-stroke:0.55px #fff;transform:scaleX(1.3111);">4</span><div style="left:44.7px;top:230.8px;width:532.0px;height:1.6px;background:repeating-linear-gradient(90deg,#666 0 5.2px,transparent 5.2px 9.4px)"></div><span class="t" id="t86" style="left:12.8px;top:228.0px;font-size:16.6px;color:#fff;-webkit-text-stroke:0.55px #fff;transform:scaleX(1.3111);">2</span><div style="left:44.7px;top:295.0px;width:532.0px;height:1.6px;background:repeating-linear-gradient(90deg,#666 0 5.2px,transparent 5.2px 9.4px)"></div><span class="t" id="t87" style="left:12.8px;top:292.0px;font-size:16.6px;color:#fff;-webkit-text-stroke:0.55px #fff;transform:scaleX(1.3111);">0</span><div style="left:52.8px;top:264.0px;width:10.8px;height:31.8px;background:#2e8be8"></div><div style="left:90.2px;top:232.1px;width:11.9px;height:63.7px;background:#2e8be8"></div><div style="left:206.1px;top:168.4px;width:10.8px;height:127.4px;background:#2e8be8"></div><div style="left:243.5px;top:232.1px;width:11.9px;height:63.7px;background:#2e8be8"></div><div style="left:319.7px;top:264.0px;width:12.3px;height:31.8px;background:#2e8be8"></div><div style="left:358.6px;top:264.0px;width:11.0px;height:31.8px;background:#2e8be8"></div><div style="left:446.1px;top:264.0px;width:12.3px;height:31.8px;background:#8a3ffc"></div><div style="left:473.0px;top:200.2px;width:12.0px;height:95.5px;background:#2e8be8"></div><div style="left:511.9px;top:232.1px;width:11.0px;height:63.7px;background:#2e8be8"></div><div style="left:549.2px;top:264.0px;width:12.6px;height:31.8px;background:#2e8be8"></div><div style="left:561.8px;top:168.4px;width:11.0px;height:127.4px;background:#8a3ffc"></div><span class="t" id="t88" style="left:-15.6px;top:306.0px;width:80px;text-align:right;font-size:19.6px;color:#f6f6f6;-webkit-text-stroke:.35px #f6f6f6;transform-origin:100% 50%;transform:rotate(-45deg) scaleX(.96)">Feb 10</span><span class="t" id="t89" style="left:22.6px;top:306.0px;width:80px;text-align:right;font-size:19.6px;color:#f6f6f6;-webkit-text-stroke:.35px #f6f6f6;transform-origin:100% 50%;transform:rotate(-45deg) scaleX(.96)">Feb 11</span><span class="t" id="t90" style="left:60.8px;top:306.0px;width:80px;text-align:right;font-size:19.6px;color:#f6f6f6;-webkit-text-stroke:.35px #f6f6f6;transform-origin:100% 50%;transform:rotate(-45deg) scaleX(.96)">Feb 12</span><span class="t" id="t91" style="left:99.0px;top:306.0px;width:80px;text-align:right;font-size:19.6px;color:#f6f6f6;-webkit-text-stroke:.35px #f6f6f6;transform-origin:100% 50%;transform:rotate(-45deg) scaleX(.96)">Feb 13</span><span class="t" id="t92" style="left:137.2px;top:306.0px;width:80px;text-align:right;font-size:19.6px;color:#f6f6f6;-webkit-text-stroke:.35px #f6f6f6;transform-origin:100% 50%;transform:rotate(-45deg) scaleX(.96)">Feb 14</span><span class="t" id="t93" style="left:175.4px;top:306.0px;width:80px;text-align:right;font-size:19.6px;color:#f6f6f6;-webkit-text-stroke:.35px #f6f6f6;transform-origin:100% 50%;transform:rotate(-45deg) scaleX(.96)">Feb 15</span><span class="t" id="t94" style="left:213.6px;top:306.0px;width:80px;text-align:right;font-size:19.6px;color:#f6f6f6;-webkit-text-stroke:.35px #f6f6f6;transform-origin:100% 50%;transform:rotate(-45deg) scaleX(.96)">Feb 16</span><span class="t" id="t95" style="left:251.8px;top:306.0px;width:80px;text-align:right;font-size:19.6px;color:#f6f6f6;-webkit-text-stroke:.35px #f6f6f6;transform-origin:100% 50%;transform:rotate(-45deg) scaleX(.96)">Feb 17</span><span class="t" id="t96" style="left:290.0px;top:306.0px;width:80px;text-align:right;font-size:19.6px;color:#f6f6f6;-webkit-text-stroke:.35px #f6f6f6;transform-origin:100% 50%;transform:rotate(-45deg) scaleX(.96)">Feb 18</span><span class="t" id="t97" style="left:328.2px;top:306.0px;width:80px;text-align:right;font-size:19.6px;color:#f6f6f6;-webkit-text-stroke:.35px #f6f6f6;transform-origin:100% 50%;transform:rotate(-45deg) scaleX(.96)">Feb 19</span><span class="t" id="t98" style="left:366.4px;top:306.0px;width:80px;text-align:right;font-size:19.6px;color:#f6f6f6;-webkit-text-stroke:.35px #f6f6f6;transform-origin:100% 50%;transform:rotate(-45deg) scaleX(.96)">Feb 20</span><span class="t" id="t99" style="left:404.6px;top:306.0px;width:80px;text-align:right;font-size:19.6px;color:#f6f6f6;-webkit-text-stroke:.35px #f6f6f6;transform-origin:100% 50%;transform:rotate(-45deg) scaleX(.96)">Feb 21</span><span class="t" id="t100" style="left:442.8px;top:306.0px;width:80px;text-align:right;font-size:19.6px;color:#f6f6f6;-webkit-text-stroke:.35px #f6f6f6;transform-origin:100% 50%;transform:rotate(-45deg) scaleX(.96)">Feb 22</span><span class="t" id="t101" style="left:481.0px;top:306.0px;width:80px;text-align:right;font-size:19.6px;color:#f6f6f6;-webkit-text-stroke:.35px #f6f6f6;transform-origin:100% 50%;transform:rotate(-45deg) scaleX(.96)">Feb 23</span></div>
</div>
</body></html>
